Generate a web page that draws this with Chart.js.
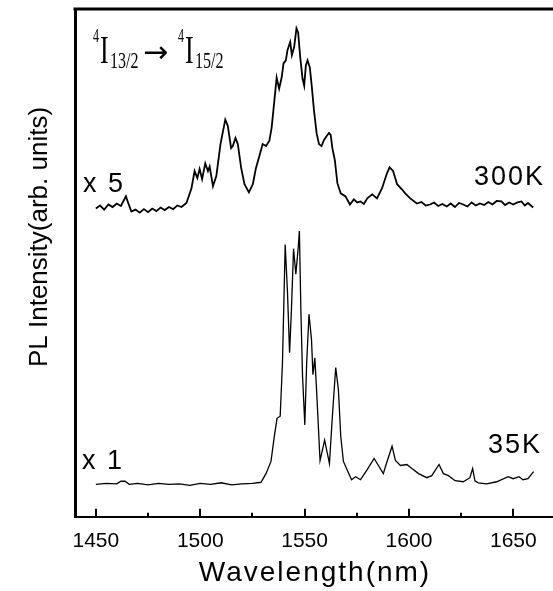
<!DOCTYPE html>
<html>
<head>
<meta charset="utf-8">
<script src="https://cdn.jsdelivr.net/npm/chart.js@4/dist/chart.umd.min.js"></script>
<style>
html, body { margin: 0; padding: 0; background: #fff; overflow: hidden; }
#wrap { width: 553px; height: 591px; }
</style>
</head>
<body>
<div id="wrap"><canvas id="plChart"></canvas></div>
<script>
// Spektra lest av bildet (arb. units, 0-100)
const wl300 = [1450, 1452, 1454, 1456, 1458, 1460, 1462, 1464.4, 1465.5, 1467, 1469, 1471, 1473, 1475, 1477, 1479, 1481, 1483, 1485, 1487, 1489, 1491, 1493.4, 1495.8, 1497.3, 1498.6, 1499.7, 1500.9, 1502.4, 1503.7, 1504.5, 1506.1, 1507.7, 1509.7, 1512.0, 1513.2, 1514.8, 1515.6, 1516.9, 1518.0, 1519.6, 1521.2, 1523.3, 1525.2, 1526.7, 1528.3, 1529.9, 1531.5, 1533.1, 1534.2, 1535.5, 1536.6, 1537.8, 1539.0, 1539.9, 1541.0, 1541.8, 1543.1, 1543.9, 1545.0, 1546.1, 1546.9, 1547.9, 1549.0, 1549.8, 1550.6, 1551.4, 1552.5, 1553.4, 1554.5, 1555.8, 1556.9, 1558.1, 1559.3, 1560.6, 1561.7, 1562.5, 1563.3, 1564.5, 1565.7, 1567.3, 1569.6, 1571.7, 1573.6, 1575.2, 1576.8, 1578.4, 1580.0, 1582.4, 1584.7, 1587.1, 1589.5, 1590.7, 1592.4, 1594.3, 1596.6, 1598.2, 1600.6, 1603.8, 1606, 1608, 1610.1, 1612, 1614, 1616, 1618.1, 1620, 1622, 1624, 1626.0, 1628, 1630, 1632, 1634.0, 1636, 1638, 1640, 1642, 1644.3, 1646, 1648, 1649.9, 1652, 1653.9, 1655.5, 1657, 1659.5];
const pl300 = [60.7, 61.3, 60.5, 61.5, 61.0, 61.7, 61.2, 63.1, 61.8, 60.1, 60.5, 59.9, 60.6, 60.0, 60.7, 60.2, 60.9, 60.4, 61.0, 60.6, 61.3, 61.0, 61.8, 64.7, 68.1, 66.7, 68.5, 66.5, 69.6, 68.1, 69.0, 65.1, 67.1, 73.4, 78.2, 77.0, 72.6, 73.0, 74.6, 73.4, 68.7, 65.5, 63.9, 65.5, 68.7, 71.0, 73.4, 73.0, 74.0, 76.6, 81.9, 86.5, 84.3, 86.5, 89.3, 89.9, 91.9, 93.5, 90.9, 92.5, 96.2, 95.4, 90.5, 86.3, 84.9, 88.9, 89.9, 88.5, 84.9, 80.0, 75.4, 73.4, 73.0, 74.2, 75.0, 75.6, 75.2, 72.6, 70.2, 65.7, 63.7, 63.1, 61.5, 62.5, 61.9, 62.1, 61.6, 62.7, 63.5, 62.7, 64.7, 67.7, 68.8, 68.1, 65.5, 64.5, 63.7, 62.7, 61.7, 62.0, 61.3, 61.5, 61.9, 61.2, 61.6, 61.1, 61.7, 61.0, 61.8, 61.5, 61.1, 61.9, 61.3, 61.7, 61.4, 62.0, 61.5, 62.2, 62.1, 61.4, 61.9, 61.5, 61.9, 62.1, 61.3, 61.8, 60.9];

const wl35 = [1450, 1455, 1460, 1462, 1464, 1466, 1470, 1475, 1480, 1485, 1490, 1495, 1500, 1505, 1510, 1515, 1520, 1525, 1529.1, 1531.5, 1533.9, 1535.5, 1536.8, 1538.3, 1539.4, 1540.7, 1541.8, 1542.8, 1543.7, 1544.7, 1545.8, 1546.9, 1547.5, 1548.2, 1549.0, 1550.1, 1551.0, 1552.1, 1553.3, 1554.0, 1554.9, 1555.8, 1557.4, 1558.5, 1559.6, 1560.9, 1561.9, 1563.3, 1564.9, 1566.2, 1567.3, 1568.6, 1570.5, 1572.5, 1574.4, 1576.8, 1580.0, 1583.3, 1585.5, 1587.7, 1589.5, 1591.9, 1593.5, 1595.9, 1599.0, 1601.4, 1604.6, 1608.5, 1610.9, 1614.4, 1616.5, 1618.9, 1622.1, 1626.0, 1629.2, 1630.5, 1631.6, 1633.2, 1637.2, 1642.0, 1647.5, 1649.9, 1652.7, 1654.6, 1657.0, 1659.7];
const pl35 = [6.4, 6.6, 6.5, 7.0, 7.0, 6.4, 6.6, 6.3, 6.6, 6.4, 6.5, 6.2, 6.6, 6.4, 6.7, 6.3, 6.5, 6.6, 6.8, 8.5, 10.9, 15.9, 19.4, 19.8, 30.4, 53.6, 44.2, 32.3, 40.9, 52.8, 47.8, 52.8, 56.3, 40.9, 27.8, 18.1, 30.4, 39.9, 34.9, 28.0, 31.3, 24.4, 11.1, 13.1, 15.1, 12.5, 10.5, 19.8, 29.4, 25.0, 15.9, 10.9, 9.1, 7.3, 7.9, 7.3, 9.3, 11.5, 10.0, 8.5, 10.9, 13.9, 11.1, 10.1, 10.3, 9.5, 8.5, 7.7, 8.1, 10.3, 8.5, 8.1, 7.1, 6.9, 7.7, 9.5, 7.1, 6.7, 6.5, 6.9, 7.9, 7.5, 7.9, 7.3, 7.5, 8.9];

const majorTicks = [1450, 1500, 1550, 1600, 1650];
const minorTicks = [1475, 1525, 1575, 1625];

const SANS = '"Liberation Sans", Arial, sans-serif';
const SERIF = '"Liberation Serif", "Times New Roman", serif';

function toPoints(xs, ys) {
    return xs.map((x, i) => ({ x: x, y: ys[i] }));
}

// Tekst med valgfri vertikal strekking
function stretchText(ctx, text, x, y, font, sy, align) {
    ctx.save();
    ctx.font = font;
    ctx.textAlign = align || 'left';
    ctx.textBaseline = 'alphabetic';
    ctx.translate(x, y);
    ctx.scale(1, sy);
    ctx.fillText(text, 0, 0);
    ctx.restore();
}

// Ramme, innovervendte tick-merker og etiketter
const framePlugin = {
    id: 'framePlugin',
    afterDraw(chart) {
        const ctx = chart.ctx;
        const area = chart.chartArea;
        const xs = chart.scales.x;
        ctx.save();
        ctx.strokeStyle = '#000';
        ctx.fillStyle = '#000';

        ctx.lineWidth = 3;
        ctx.beginPath();
        ctx.moveTo(area.left - 1.5, area.top);
        ctx.lineTo(area.right, area.top);
        ctx.stroke();

        ctx.lineWidth = 2;
        majorTicks.forEach(v => {
            const px = Math.round(xs.getPixelForValue(v));
            ctx.beginPath();
            ctx.moveTo(px, area.bottom);
            ctx.lineTo(px, area.bottom - 8);
            ctx.stroke();
        });
        minorTicks.forEach(v => {
            const px = Math.round(xs.getPixelForValue(v));
            ctx.beginPath();
            ctx.moveTo(px, area.bottom);
            ctx.lineTo(px, area.bottom - 4);
            ctx.stroke();
        });

        // Aksetitler
        ctx.letterSpacing = '2px';
        ctx.font = '28px ' + SANS;
        ctx.textAlign = 'center';
        ctx.textBaseline = 'middle';
        ctx.fillText('Wavelength(nm)', (area.left + area.right) / 2 + 1, 573);

        ctx.save();
        ctx.letterSpacing = '0px';
        ctx.translate(40, 237);
        ctx.rotate(-Math.PI / 2);
        ctx.font = '26px ' + SANS;
        ctx.fillText('PL Intensity(arb. units)', 0, 0);
        ctx.restore();

        // Kurveetiketter
        ctx.letterSpacing = '2px';
        ctx.textBaseline = 'alphabetic';
        stretchText(ctx, 'x 5', 83, 192, '27px ' + SANS, 1.05, 'left');
        stretchText(ctx, '300K', 545, 185, '27px ' + SANS, 1.05, 'right');
        stretchText(ctx, 'x 1', 82, 469, '27px ' + SANS, 1.05, 'left');
        stretchText(ctx, '35K', 542, 453, '27px ' + SANS, 1.05, 'right');

        // Overgang 4I13/2 -> 4I15/2
        ctx.letterSpacing = '0px';
        stretchText(ctx, '4', 93, 42, '12px ' + SERIF, 1.5);
        stretchText(ctx, 'I', 100, 63, '26px ' + SERIF, 1.5);
        stretchText(ctx, '13/2', 110, 68, '16px ' + SERIF, 1.5);
        stretchText(ctx, '\u2192', 143, 62, '30px "DejaVu Sans", sans-serif', 1.0);
        stretchText(ctx, '4', 178, 42, '12px ' + SERIF, 1.5);
        stretchText(ctx, 'I', 185, 63, '26px ' + SERIF, 1.5);
        stretchText(ctx, '15/2', 195, 68, '16px ' + SERIF, 1.5);
        ctx.restore();
    }
};

function initializeChart() {
    const ctx = document.getElementById('plChart').getContext('2d');
    new Chart(ctx, {
        type: 'line',
        data: {
            datasets: [{
                label: '300K',
                data: toPoints(wl300, pl300),
                borderColor: '#000',
                borderWidth: 1.8,
                pointRadius: 0,
                tension: 0
            }, {
                label: '35K',
                data: toPoints(wl35, pl35),
                borderColor: '#000',
                borderWidth: 1.3,
                pointRadius: 0,
                tension: 0
            }]
        },
        options: {
            responsive: true,
            maintainAspectRatio: false,
            animation: false,
            layout: { padding: { left: 75, right: 0, top: 9, bottom: 25 } },
            plugins: {
                legend: { display: false },
                tooltip: { enabled: false }
            },
            scales: {
                x: {
                    type: 'linear',
                    min: 1440,
                    max: 1669,
                    afterBuildTicks: axis => { axis.ticks = majorTicks.map(v => ({ value: v })); },
                    grid: { display: false, drawTicks: false },
                    border: { display: true, color: '#000', width: 2 },
                    ticks: {
                        color: '#000',
                        padding: 12,
                        maxRotation: 0,
                        font: { family: SANS, size: 21 },
                        callback: v => String(v)
                    }
                },
                y: {
                    min: 0,
                    max: 100,
                    grid: { display: false, drawTicks: false },
                    border: { display: true, color: '#000', width: 3 },
                    ticks: { display: false }
                }
            }
        },
        plugins: [framePlugin]
    });
}

window.onload = initializeChart;
</script>
</body>
</html>
